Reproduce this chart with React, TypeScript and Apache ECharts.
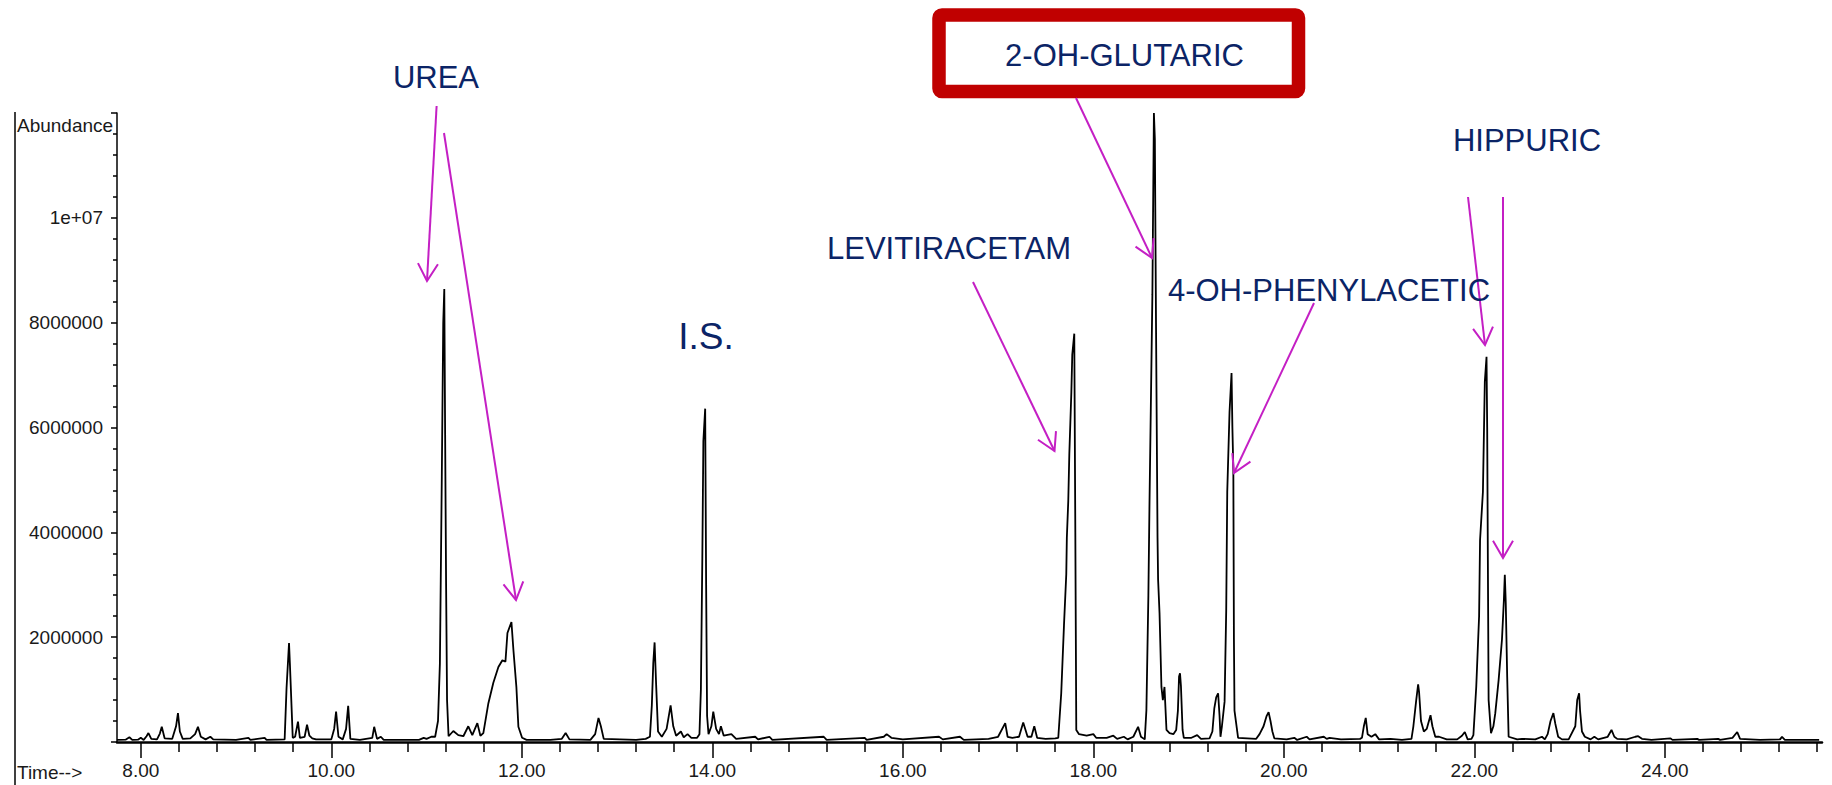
import React, { useEffect, useRef } from "react";
import * as echarts from "echarts";

// Total ion chromatogram: retention time (min) vs abundance (counts).
// The trace is stored region by region as [time, abundance] vertices.

const earlyTrace: [number, number][] = [
  [7.75, 40000], [7.84, 45000], [7.88, 90000], [7.91, 40000], [7.97, 45000],
  [8.0, 80000], [8.03, 40000], [8.06, 110000], [8.08, 170000], [8.11, 60000],
  [8.17, 50000], [8.2, 160000], [8.22, 290000], [8.25, 70000], [8.33, 60000],
  [8.37, 300000], [8.39, 550000], [8.41, 200000], [8.44, 60000], [8.52, 70000],
  [8.57, 150000], [8.6, 290000], [8.63, 100000], [8.68, 50000], [8.73, 100000],
  [8.76, 50000], [9.0, 40000], [9.13, 80000], [9.15, 40000], [9.3, 80000],
  [9.32, 40000], [9.51, 50000], [9.53, 1030000], [9.556, 1890000], [9.565, 1500000],
  [9.575, 1030000], [9.595, 80000], [9.62, 100000], [9.65, 390000], [9.67, 80000],
  [9.72, 100000], [9.745, 330000], [9.77, 120000], [9.8, 70000], [9.84, 50000],
  [10.0, 50000], [10.03, 250000], [10.05, 580000], [10.075, 100000], [10.12, 50000],
  [10.155, 250000], [10.177, 690000], [10.2, 60000], [10.3, 40000], [10.43, 80000],
  [10.45, 290000], [10.48, 60000], [10.52, 100000], [10.55, 40000], [10.92, 40000],
  [10.97, 80000], [11.0, 60000], [11.05, 100000],
];

const ureaRegion: [number, number][] = [
  [11.09, 100000], [11.12, 400000], [11.14, 1500000], [11.16, 5060000], [11.175, 8000000],
  [11.186, 8640000], [11.195, 5860000], [11.205, 3000000], [11.215, 800000], [11.231, 110000],
  [11.281, 210000], [11.333, 130000], [11.386, 110000], [11.438, 300000], [11.48, 130000],
  [11.533, 360000], [11.565, 120000], [11.596, 170000], [11.649, 740000], [11.701, 1130000],
  [11.754, 1430000], [11.796, 1560000], [11.828, 1530000], [11.849, 2080000], [11.891, 2290000],
  [11.912, 1750000], [11.943, 1050000], [11.964, 290000], [12.003, 80000], [12.05, 40000],
];

const midTrace: [number, number][] = [
  [12.3, 40000], [12.42, 60000], [12.46, 170000], [12.5, 50000], [12.72, 40000],
  [12.77, 150000], [12.805, 460000], [12.83, 300000], [12.86, 60000], [13.2, 40000],
  [13.3, 60000], [13.345, 100000], [13.365, 700000], [13.38, 1500000], [13.394, 1900000],
  [13.41, 1100000], [13.43, 200000], [13.47, 100000], [13.52, 250000], [13.562, 700000],
  [13.59, 300000], [13.62, 120000], [13.67, 200000], [13.7, 90000], [13.74, 150000],
  [13.78, 80000], [13.84, 80000],
  // internal standard
  [13.865, 150000], [13.88, 1000000], [13.895, 3500000], [13.906, 5740000], [13.925, 6360000],
  [13.935, 3000000], [13.945, 500000], [13.96, 150000], [13.99, 300000], [14.01, 580000],
  [14.04, 250000], [14.07, 150000], [14.09, 300000], [14.12, 120000], [14.2, 150000],
  [14.25, 60000], [14.45, 100000], [14.48, 50000], [14.6, 100000], [14.63, 40000],
  [15.17, 100000], [15.2, 40000], [15.6, 80000], [15.62, 40000], [15.8, 100000],
  [15.83, 150000], [15.88, 80000], [16.0, 50000], [16.38, 100000], [16.42, 50000],
  [16.6, 100000], [16.64, 40000], [16.9, 60000], [17.0, 100000], [17.075, 360000],
  [17.1, 100000], [17.15, 80000], [17.22, 100000], [17.264, 370000], [17.31, 100000],
  [17.35, 100000], [17.38, 300000], [17.41, 80000], [17.5, 60000], [17.6, 70000],
];

const levitiracetamRegion: [number, number][] = [
  [17.632, 80000], [17.663, 930000], [17.692, 2230000], [17.716, 3200000], [17.722, 3900000],
  [17.737, 4600000], [17.748, 5500000], [17.769, 6660000], [17.779, 7390000], [17.8, 7790000],
  [17.811, 4000000], [17.821, 230000], [17.85, 150000], [17.93, 120000], [18.0, 150000],
  [18.03, 80000], [18.14, 80000], [18.21, 120000], [18.25, 60000], [18.32, 100000],
  [18.36, 50000], [18.42, 100000], [18.47, 290000], [18.5, 100000], [18.54, 50000],
];

const glutaricRegion: [number, number][] = [
  [18.557, 600000], [18.578, 2800000], [18.59, 4600000], [18.62, 8530000], [18.636, 12000000],
  [18.646, 11500000], [18.658, 8000000], [18.674, 3900000], [18.68, 3100000], [18.695, 2460000],
  [18.715, 1050000], [18.73, 800000], [18.747, 1050000], [18.768, 230000], [18.8, 170000],
  [18.84, 150000], [18.87, 230000], [18.888, 600000], [18.9, 1250000], [18.91, 1310000],
  [18.92, 1060000], [18.937, 230000], [18.95, 80000], [19.03, 80000], [19.09, 130000],
  [19.13, 60000], [19.22, 70000], [19.25, 200000], [19.27, 640000], [19.29, 850000],
  [19.31, 930000], [19.325, 500000], [19.335, 100000], [19.35, 300000],
];

const phenylaceticRegion: [number, number][] = [
  [19.378, 770000], [19.395, 2500000], [19.406, 4770000], [19.43, 6300000], [19.451, 7040000],
  [19.46, 6000000], [19.47, 5190000], [19.476, 1980000], [19.482, 600000], [19.52, 80000],
  [19.71, 60000], [19.745, 150000], [19.787, 300000], [19.82, 500000], [19.84, 570000],
  [19.86, 400000], [19.88, 200000], [19.9, 70000], [20.03, 50000], [20.11, 80000],
  [20.14, 40000], [20.24, 100000], [20.27, 50000], [20.42, 100000], [20.45, 60000],
  [20.48, 80000], [20.6, 50000], [20.8, 60000], [20.82, 80000], [20.84, 300000],
  [20.86, 460000], [20.88, 150000], [20.92, 100000], [20.96, 150000], [21.0, 50000],
  [21.12, 60000], [21.24, 40000], [21.34, 60000], [21.36, 300000], [21.39, 800000],
  [21.41, 1100000], [21.42, 950000], [21.44, 400000], [21.47, 200000], [21.5, 250000],
  [21.54, 510000], [21.56, 300000], [21.59, 100000], [21.63, 100000], [21.71, 50000],
  [21.82, 50000], [21.87, 120000], [21.9, 190000], [21.93, 50000], [21.97, 60000],
];

const hippuricRegion: [number, number][] = [
  [21.99, 130000], [22.02, 1050000], [22.05, 2400000], [22.06, 3850000], [22.09, 4770000],
  [22.11, 6870000], [22.128, 7350000], [22.135, 6000000], [22.142, 3470000], [22.15, 800000],
  [22.175, 170000], [22.2, 300000], [22.22, 550000], [22.255, 1180000], [22.29, 1950000],
  [22.31, 2700000], [22.32, 3190000], [22.33, 2650000], [22.345, 1240000], [22.36, 100000],
  [22.45, 50000],
];

const lateTrace: [number, number][] = [
  [22.5, 60000], [22.64, 50000], [22.71, 100000], [22.74, 50000], [22.77, 150000],
  [22.8, 400000], [22.83, 550000], [22.85, 350000], [22.88, 100000], [22.92, 50000],
  [22.99, 50000], [23.06, 300000], [23.08, 800000], [23.1, 930000], [23.11, 600000],
  [23.13, 200000], [23.16, 100000], [23.22, 50000], [23.26, 100000], [23.3, 50000],
  [23.4, 100000], [23.44, 230000], [23.47, 100000], [23.5, 60000], [23.6, 50000],
  [23.69, 100000], [23.72, 110000], [23.76, 60000], [23.86, 40000], [24.06, 70000],
  [24.08, 40000], [24.34, 60000], [24.36, 40000], [24.56, 60000], [24.58, 40000],
  [24.71, 80000], [24.76, 190000], [24.79, 60000], [25.0, 40000], [25.21, 50000],
  [25.23, 100000], [25.26, 40000], [25.45, 40000], [25.62, 40000],
];

// Axis ticks (minutes) and abundance label steps
const xLabelTicks = [8, 10, 12, 14, 16, 18, 20, 22, 24];
const xSmallTicks = [
  8.4, 8.8, 9.2, 9.6, 10.4, 10.8, 11.2, 11.6, 12.4, 12.8, 13.2, 13.6,
  14.4, 14.8, 15.2, 15.6, 16.4, 16.8, 17.2, 17.6, 18.4, 18.8, 19.2, 19.6,
  20.4, 20.8, 21.2, 21.6, 22.4, 22.8, 23.2, 23.6, 24.4, 24.8, 25.2, 25.6,
];
const yLabelValues = [2000000, 4000000, 6000000, 8000000, 10000000];

const compounds = [
  { name: "UREA", x: 436, y: 77, size: 31 },
  { name: "I.S.", x: 706, y: 336, size: 37 },
  { name: "LEVITIRACETAM", x: 949, y: 248, size: 31 },
  { name: "4-OH-PHENYLACETIC", x: 1329, y: 290, size: 31 },
  { name: "HIPPURIC", x: 1527, y: 140, size: 31 },
];

// Pointer arrows: [fromX, fromY, toX, toY]
const pointers: [number, number, number, number][] = [
  [436.6, 106, 427, 281],
  [444, 133, 516, 600],
  [1076, 98, 1152, 258],
  [973, 282, 1054.5, 451],
  [1314, 303, 1234, 473],
  [1468, 197, 1485, 345],
  [1503, 197, 1503, 558],
];

const NAVY = "#0B2466";
const MAGENTA = "#C41FC4";
const TICK_FONT = "'Liberation Sans', Arial, sans-serif";
const TICK_SIZE = 19;
const NOTE_FONT = "'Liberation Sans', Arial, sans-serif";

function expLabel(v: number): string {
  const [m, e] = v.toExponential().split("e");
  const sign = e[0];
  const digits = e.slice(1).padStart(2, "0");
  return `${m}e${sign}${digits}`;
}

function arrowShapes(x1: number, y1: number, x2: number, y2: number) {
  const dx = x1 - x2;
  const dy = y1 - y2;
  const len = Math.hypot(dx, dy);
  const ux = dx / len;
  const uy = dy / len;
  const a = Math.PI / 6;
  const L = 20;
  const c = Math.cos(a);
  const s = Math.sin(a);
  const w1 = [x2 + L * (ux * c - uy * s), y2 + L * (ux * s + uy * c)];
  const w2 = [x2 + L * (ux * c + uy * s), y2 + L * (-ux * s + uy * c)];
  return [
    {
      type: "line",
      z: 10,
      shape: { x1, y1, x2, y2 },
      style: { stroke: MAGENTA, lineWidth: 2 },
    },
    {
      type: "polyline",
      z: 10,
      shape: { points: [w1, [x2, y2], w2] },
      style: { stroke: MAGENTA, lineWidth: 2, fill: null },
    },
  ];
}

export default function App() {
  const ref = useRef<HTMLDivElement>(null);

  useEffect(() => {
    if (!ref.current) return;
    const chart = echarts.init(ref.current, undefined, { renderer: "svg" });

    const trace = [
      ...earlyTrace,
      ...ureaRegion,
      ...midTrace,
      ...levitiracetamRegion,
      ...glutaricRegion,
      ...phenylaceticRegion,
      ...hippuricRegion,
      ...lateTrace,
    ];

    const graphic: any[] = [
      // left frame edge
      {
        type: "line",
        shape: { x1: 15, y1: 112, x2: 15, y2: 785 },
        style: { stroke: "#000", lineWidth: 1.5 },
      },
      {
        type: "text",
        style: {
          text: "Abundance",
          x: 17,
          y: 125,
          fill: "#1a1a1a",
          fontSize: TICK_SIZE,
          fontFamily: TICK_FONT,
          align: "left",
          verticalAlign: "middle",
          textAlign: "left",
          textVerticalAlign: "middle",
        },
      },
      {
        type: "text",
        style: {
          text: "Time-->",
          x: 17,
          y: 772,
          fill: "#1a1a1a",
          fontSize: TICK_SIZE,
          fontFamily: TICK_FONT,
          align: "left",
          verticalAlign: "middle",
          textAlign: "left",
          textVerticalAlign: "middle",
        },
      },
      // highlighted compound box
      {
        type: "rect",
        z: 10,
        shape: { x: 939, y: 15, width: 359.5, height: 76.5, r: 3 },
        style: { stroke: "#C00000", lineWidth: 13.5, fill: "#fff" },
      },
      {
        type: "text",
        z: 11,
        style: {
          text: "2-OH-GLUTARIC",
          x: 1124.5,
          y: 55,
          fill: NAVY,
          fontSize: 31,
          fontFamily: NOTE_FONT,
          align: "center",
          verticalAlign: "middle",
          textAlign: "center",
          textVerticalAlign: "middle",
        },
      },
      ...compounds.map((c) => ({
        type: "text",
        z: 11,
        style: {
          text: c.name,
          x: c.x,
          y: c.y,
          fill: NAVY,
          fontSize: c.size,
          fontFamily: NOTE_FONT,
          align: "center",
          verticalAlign: "middle",
          textAlign: "center",
          textVerticalAlign: "middle",
        },
      })),
      ...pointers.flatMap((p) => arrowShapes(p[0], p[1], p[2], p[3])),
    ];

    chart.setOption({
      animation: false,
      backgroundColor: "#fff",
      grid: { left: 117, right: 10, top: 113, bottom: 43, containLabel: false },
      xAxis: [
        {
          type: "value",
          min: 7.75,
          max: 25.65,
          position: "bottom",
          axisLine: { show: true, onZero: false, lineStyle: { color: "#000", width: 2.5 } },
          axisTick: {
            show: true,
            customValues: xLabelTicks,
            length: 16,
            lineStyle: { color: "#000", width: 1.5 },
          },
          axisLabel: {
            customValues: xLabelTicks,
            formatter: (v: number) => v.toFixed(2),
            margin: 19,
            fontSize: TICK_SIZE,
            color: "#1a1a1a",
            fontFamily: TICK_FONT,
          },
          splitLine: { show: false },
        },
        {
          type: "value",
          min: 7.75,
          max: 25.65,
          position: "bottom",
          offset: 0,
          axisLine: { show: false, onZero: false },
          axisTick: {
            show: true,
            customValues: xSmallTicks,
            length: 10,
            lineStyle: { color: "#000", width: 1.5 },
          },
          axisLabel: { show: false },
          splitLine: { show: false },
        },
      ],
      yAxis: {
        type: "value",
        min: 0,
        max: 12000000,
        interval: 2000000,
        axisLine: { show: true, onZero: false, lineStyle: { color: "#000", width: 1.5 } },
        axisTick: { show: true, length: 6, lineStyle: { color: "#000", width: 1.5 } },
        minorTick: { show: true, splitNumber: 5, length: 4, lineStyle: { color: "#000", width: 1.5 } },
        axisLabel: {
          formatter: (v: number) =>
            yLabelValues.includes(v) ? (v >= 10000000 ? expLabel(v) : String(v)) : "",
          margin: 14,
          fontSize: TICK_SIZE,
          color: "#1a1a1a",
          fontFamily: TICK_FONT,
        },
        splitLine: { show: false },
        minorSplitLine: { show: false },
      },
      series: [
        {
          type: "line",
          xAxisIndex: 0,
          data: trace,
          showSymbol: false,
          symbol: "none",
          silent: true,
          lineStyle: { color: "#000", width: 1.8 },
          itemStyle: { color: "#000" },
          z: 5,
        },
      ],
      graphic,
    });

    return () => chart.dispose();
  }, []);

  return (
    <div
      ref={ref}
      style={{ position: "absolute", left: 0, top: 0, width: 1832, height: 785 }}
    />
  );
}
